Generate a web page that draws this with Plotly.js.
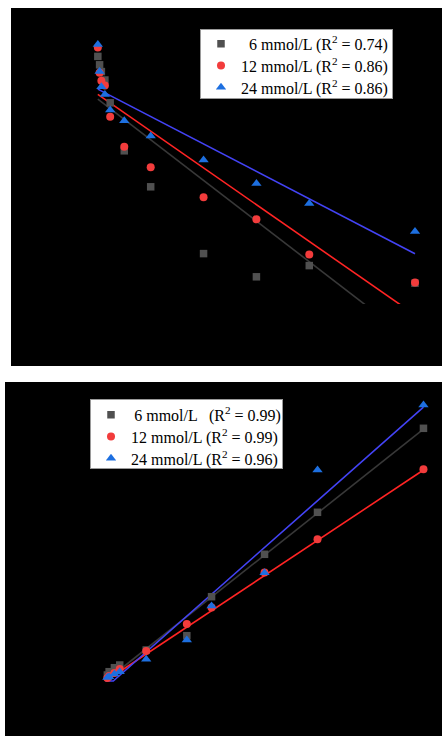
<!DOCTYPE html>
<html>
<head>
<meta charset="utf-8">
<script src="https://cdn.plot.ly/plotly-3.0.1.min.js"></script>
<style>html,body{margin:0;padding:0;background:#fff;}#chart{width:442px;height:736px;}</style>
</head>
<body>
<div id="chart"></div>
<script>
// ---- Top panel (pseudo-first-order style) ----
const topTime = [0, 1, 2, 4, 7, 15, 30, 60, 90, 120, 180];
const top6  = [4.19, 3.98, 3.81, 3.60, 3.03, 1.83, 0.93, -0.74, -1.32, -1.04, -1.48];
const top12 = [4.41, 3.78, 3.58, 3.46, 2.68, 1.93, 1.42, 0.67, 0.12, -0.76, -1.46];
const top24 = [4.49, 3.81, 3.43, 3.24, 2.85, 2.58, 2.20, 1.60, 1.01, 0.51, -0.19];
const topFitIntercept = [3.1225, 3.24, 3.3725];
const topFitSlope     = [-0.03388, -0.03063, -0.02286];
const topNames = ['\u20076 mmol/L (R<sup>2</sup> = 0.74)',
                  '12 mmol/L (R<sup>2</sup> = 0.86)',
                  '24 mmol/L (R<sup>2</sup> = 0.86)'];

// ---- Bottom panel (pseudo-second-order style) ----
const botTime = [1, 2, 5, 8, 23, 46, 60, 90, 120, 180];
const bot6  = [0.06, 0.093, 0.133, 0.16, 0.31, 0.453, 0.843, 1.267, 1.687, 2.527];
const bot12 = [0.03, 0.05, 0.08, 0.12, 0.30, 0.57, 0.734, 1.084, 1.417, 2.117];
const bot24 = [0.035, 0.043, 0.07, 0.093, 0.217, 0.41, 0.75, 1.083, 2.11, 2.76];
const botFitIntercept = [0.0, 0.0, -0.068];
const botFitSlope     = [0.01399, 0.01172, 0.01559];
const botNames = ['\u20096 mmol/L\u00a0\u00a0\u2009(R<sup>2</sup> = 0.99)',
                  '12 mmol/L (R<sup>2</sup> = 0.99)',
                  '24 mmol/L (R<sup>2</sup> = 0.96)'];

const markerColors = ['#505050', '#f23c3c', '#1d6fe0'];
const lineColors   = ['#383838', '#ff2424', '#4343f5'];
const symbols      = ['square', 'circle', 'triangle-up'];
const sizes        = [7.5, 8, 9];

const traces = [];
const topSeries = [top6, top12, top24];
const botSeries = [bot6, bot12, bot24];

// top fit lines
for (let i = 0; i < 3; i++) {
  const xs = [0, Math.max(...topTime)];
  traces.push({x: xs, y: xs.map(t => topFitIntercept[i] + topFitSlope[i] * t),
    mode: 'lines', line: {color: lineColors[i], width: 1.6},
    showlegend: false, hoverinfo: 'skip', xaxis: 'x', yaxis: 'y'});
}
// top markers
for (let i = 0; i < 3; i++) {
  traces.push({x: topTime, y: topSeries[i], mode: 'markers', name: topNames[i],
    marker: {symbol: symbols[i], size: sizes[i], color: markerColors[i]},
    xaxis: 'x', yaxis: 'y', legend: 'legend'});
}
// bottom fit lines (floored at 0 like the original)
for (let i = 0; i < 3; i++) {
  const xmax = Math.max(...botTime);
  let xs = [0];
  const a = botFitIntercept[i], b = botFitSlope[i];
  if (a < 0) xs.push(-a / b);
  xs.push(xmax);
  traces.push({x: xs, y: xs.map(t => Math.max(a + b * t, 0)),
    mode: 'lines', line: {color: lineColors[i], width: 1.6},
    showlegend: false, hoverinfo: 'skip', xaxis: 'x2', yaxis: 'y2'});
}
// bottom markers
for (let i = 0; i < 3; i++) {
  traces.push({x: botTime, y: botSeries[i], mode: 'markers', name: botNames[i],
    marker: {symbol: symbols[i], size: sizes[i], color: markerColors[i]},
    xaxis: 'x2', yaxis: 'y2', legend: 'legend2'});
}

const W = 442, H = 736;
const hidden = {visible: false, showgrid: false, zeroline: false, fixedrange: true};
const legendFont = {family: 'Liberation Serif, Times New Roman, serif', size: 16, color: '#000'};

const layout = {
  width: W, height: H,
  margin: {l: 0, r: 0, t: 0, b: 0},
  paper_bgcolor: '#ffffff',
  plot_bgcolor: 'rgba(0,0,0,0)',
  xaxis:  Object.assign({}, hidden, {domain: [11 / W, 1], range: [-49.285, 195.32], anchor: 'y'}),
  yaxis:  Object.assign({}, hidden, {domain: [1 - 304 / H, 1 - 8 / H], range: [-2, 5.4], anchor: 'x'}),
  xaxis2: Object.assign({}, hidden, {domain: [5 / W, 1], range: [-56.96, 190.49], anchor: 'y2'}),
  yaxis2: Object.assign({}, hidden, {domain: [0, 1 - 382 / H], range: [-0.55, 2.99], anchor: 'x2'}),
  shapes: [
    {type: 'rect', xref: 'paper', yref: 'paper', x0: 11 / W, x1: 1, y0: 1 - 366 / H, y1: 1 - 8 / H,
     fillcolor: '#000', line: {width: 0}, layer: 'below'},
    {type: 'rect', xref: 'paper', yref: 'paper', x0: 5 / W, x1: 1, y0: 0, y1: 1 - 382 / H,
     fillcolor: '#000', line: {width: 0}, layer: 'below'}
  ],
  legend: {x: 200 / W, y: 1 - 29.3 / H, xanchor: 'left', yanchor: 'top',
    bgcolor: '#ffffff', bordercolor: '#9a9a9a', borderwidth: 1, font: legendFont, traceorder: 'normal'},
  legend2: {x: 90 / W, y: 1 - 399.3 / H, xanchor: 'left', yanchor: 'top',
    bgcolor: '#ffffff', bordercolor: '#9a9a9a', borderwidth: 1, font: legendFont, traceorder: 'normal'},
  showlegend: true
};

// compact legend rows to match the original box (row pitch, box size)
function tightenLegend(cls, rowPitch, firstShift, boxW, boxH) {
  const g = document.querySelector('#chart g.' + cls);
  if (!g) return;
  const items = g.querySelectorAll('g.traces');
  let y0 = null;
  items.forEach((it, i) => {
    const tr = it.getAttribute('transform') || '';
    const m = tr.match(/translate\(\s*([-\d.e]+)[ ,]+([-\d.e]+)\s*\)/);
    if (!m) return;
    const x = parseFloat(m[1]);
    if (y0 === null) y0 = parseFloat(m[2]);
    it.setAttribute('transform', 'translate(' + x + ',' + (y0 + firstShift + i * rowPitch) + ')');
  });
  const bg = g.querySelector('rect.bg');
  if (bg) { bg.setAttribute('width', boxW); bg.setAttribute('height', boxH); }
}

Plotly.newPlot('chart', traces, layout, {displayModeBar: false, staticPlot: true}).then(() => {
  tightenLegend('legend', 21.8, -3.5, 192, 68.5);
  tightenLegend('legend2', 21.8, -2.5, 191.5, 69);
});
</script>
</body>
</html>
